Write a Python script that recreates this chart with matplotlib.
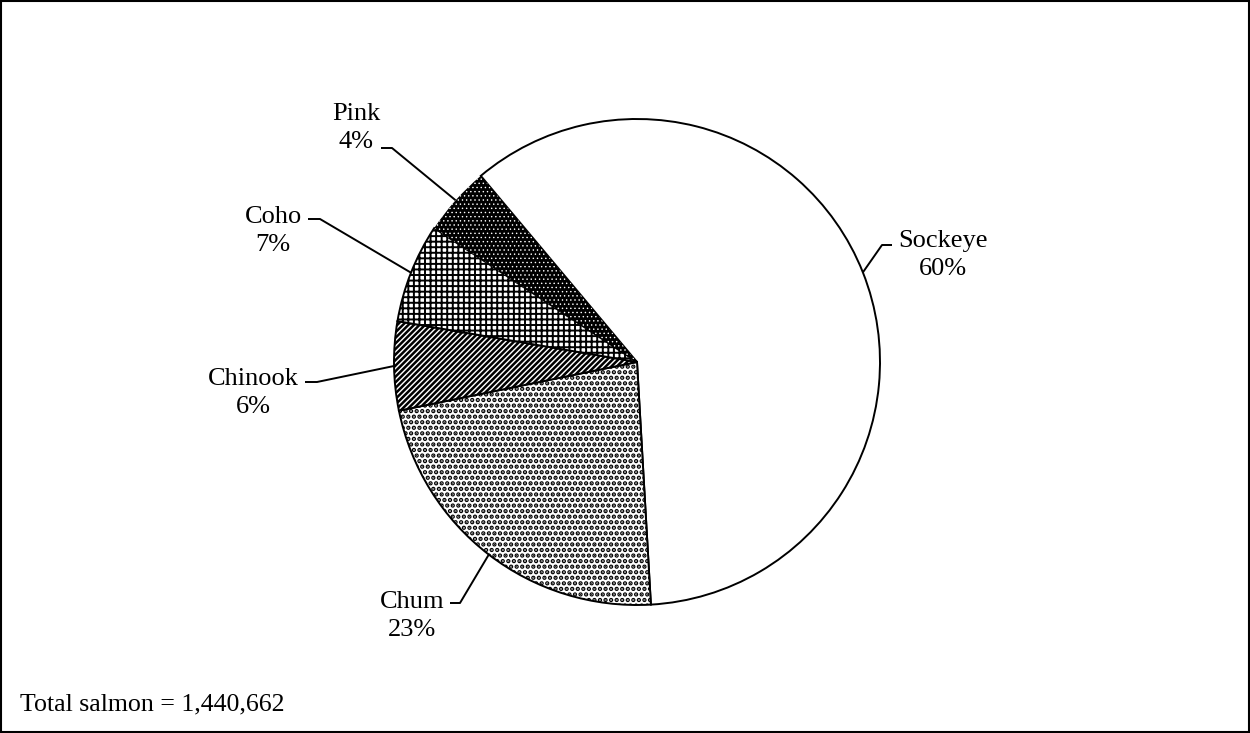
import matplotlib
matplotlib.use("Agg")
import matplotlib.pyplot as plt
import numpy as np
from matplotlib.patches import Rectangle

# ---- data ----
species = ["Sockeye", "Chum", "Chinook", "Coho", "Pink"]
shares = [60.2, 22.7, 5.9, 6.6, 4.6]
pct_labels = ["60%", "23%", "6%", "7%", "4%"]
total_text = "Total salmon = 1,440,662"

# ---- layout (pixel coordinates, y measured from top) ----
W, H = 1250, 733
center_px = (637, 362)
radius_px = 243
label_pos = [(943, 255), (412, 616), (253, 393), (273, 231), (356, 128)]
elbow = [((892, 245), (882, 245)),
         ((450, 603), (460, 603)),
         ((305, 382), (317, 382)),
         ((308, 219), (320, 219)),
         ((381, 148), (392, 148))]
hatches = ["", "...", "//////", "+++", "...."]
hatch_lw = {"Chum": 2.2, "Chinook": 1.8, "Coho": 1.4, "Pink": 0.5}

plt.rcParams["font.family"] = ["Liberation Serif", "DejaVu Serif"]
plt.rcParams["hatch.linewidth"] = 1.5

fig = plt.figure(figsize=(W / 100, H / 100), dpi=100)
ax = fig.add_axes([0, 0, 1, 1])
ax.set_xlim(0, W)
ax.set_ylim(0, H)
ax.set_aspect("equal")
ax.axis("off")

def fy(y):
    return H - y

wedges, _ = ax.pie(shares, startangle=130.0, counterclock=False,
                   center=(center_px[0], fy(center_px[1])), radius=radius_px,
                   colors=["white"] * len(shares),
                   wedgeprops=dict(edgecolor="black", linewidth=1.4))
ax.set_xlim(0, W)
ax.set_ylim(0, H)

for i, w in enumerate(wedges):
    h = hatches[i]
    if species[i] == "Pink":
        w.set_facecolor("black")
        w.set_edgecolor("white")
        w.set_linewidth(0)
    w.set_hatch(h)
    if hasattr(w, "set_hatch_linewidth"):
        w.set_hatch_linewidth(hatch_lw.get(species[i], 1.0))

for i, w in enumerate(wedges):
    mid = np.deg2rad((w.theta1 + w.theta2) / 2)
    px = center_px[0] + radius_px * np.cos(mid)
    py = fy(center_px[1]) + radius_px * np.sin(mid)
    (x0, y0), (x1, y1) = elbow[i]
    ax.plot([x0, x1, px], [fy(y0), fy(y1), py], color="black", lw=1.4,
            solid_capstyle="butt", zorder=3)
    lx, ly = label_pos[i]
    ax.text(lx, fy(ly), f"{species[i]}\n{pct_labels[i]}", ha="center",
            va="center", fontsize=19, linespacing=1.32, zorder=4)

ax.text(20, fy(704), total_text, ha="left", va="center", fontsize=18.6)

fig.add_artist(Rectangle((0.0008, 0.0014), 0.9984, 0.9972,
                         transform=fig.transFigure, fill=False,
                         edgecolor="black", linewidth=1.5))

fig.savefig("out.png", dpi=100)
